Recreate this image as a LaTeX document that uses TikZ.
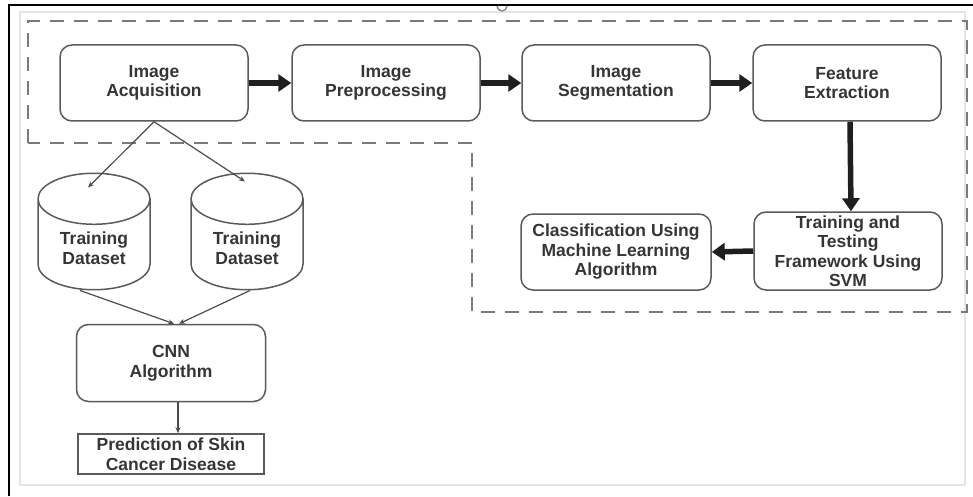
\documentclass[tikz,border=0pt]{standalone}
\usepackage{fontspec}
\setmainfont{Liberation Sans}
\usetikzlibrary{shapes.geometric,arrows.meta}

\definecolor{boxline}{HTML}{5A5A5A}
\definecolor{txtgray}{HTML}{353535}
\definecolor{dashgray}{HTML}{7A7A7A}

\tikzset{
    procbox/.style={draw=boxline,
        line width=1.5pt,
        rounded corners=12pt,
        minimum width=188pt,
        minimum height=76pt,
        inner sep=0pt,
        align=center,
        text=txtgray,
        font=\fontsize{17.5}{19.5}\selectfont\bfseries
    },
    dbase/.style={cylinder,
        shape border rotate=90,
        aspect=0.75,
        draw=boxline,
        line width=1.5pt,
        minimum width=112pt,
        minimum height=109pt,
        inner sep=0pt,
        anchor=shape center,
        align=center,
        text=txtgray,
        font=\fontsize{17.5}{19.5}\selectfont\bfseries
    },
    bigarrow/.style={-{Triangle[length=13pt,width=17pt]},
        line width=5.5pt,
        draw=black!88
    },
    thinarrow/.style={-{Stealth[length=6pt,width=5pt]},
        line width=1.2pt,
        draw=black!70
    }
}

\begin{document}
\begin{tikzpicture}[x=1pt,y=1pt]
    \useasboundingbox (0,0) rectangle (973,496);

    % frame
    \draw[black!10, line width=1.5pt] (20,11) rectangle (965,484);
    \draw[line width=2pt] (9,0) -- (9,491) -- (973,491);
    \draw[black!45, line width=1.5pt] (497,490) arc (180:360:5);

    % dashed region
    \draw[dashgray, line width=2pt, dash pattern=on 14pt off 10pt]
        (28,353) -- (28,475) -- (967,475) -- (967,184)
        -- (472,184) -- (472,353) -- cycle;

    % pipeline
    \node[procbox] (acq) at (154,413) {Image\\Acquisition};
    \node[procbox] (pre) at (386,413) {Image\\Preprocessing};
    \node[procbox] (seg) at (616,413) {Image\\Segmentation};
    \node[procbox] (feat) at (847,413) {Feature\\Extraction};
    \node[procbox,
        minimum height=78pt
    ] (svm) at (848,245) {Training and\\Testing\\Framework Using\\SVM};
    \node[procbox,
        minimum width=190pt
    ] (cls) at (616,244) {Classification Using\\Machine Learning\\Algorithm};

    \draw[bigarrow] (acq.east) -- (pre.west);
    \draw[bigarrow] (pre.east) -- (seg.west);
    \draw[bigarrow] (seg.east) -- (feat.west);
    \draw[bigarrow] ([xshift=3pt]feat.south) -- ([xshift=3pt]svm.north);
    \draw[bigarrow] (svm.west) -- (cls.east);

    % CNN branch
    \node[dbase] (db1) at (94,264.5) {\\Training\\Dataset};
    \node[dbase] (db2) at (247,264.5) {\\Training\\Dataset};
    \node[procbox,
        minimum width=189pt,
        minimum height=77pt
    ] (cnn) at (171,133) {CNN\\Algorithm};
    \node[draw=boxline,
        line width=1.5pt,
        minimum width=186pt,
        minimum height=40pt,
        inner sep=0pt,
        align=center,
        text=txtgray,
        font=\fontsize{17.5}{19.5}\selectfont\bfseries
    ] (pred) at (171,42) {Prediction of Skin\\Cancer Disease};

    \draw[thinarrow] (acq.south) -- ([xshift=-6pt,yshift=-15pt]db1.north);
    \draw[thinarrow] (acq.south) -- ([xshift=-2pt,yshift=-9pt]db2.north);
    \draw[thinarrow] ([xshift=-14pt]db1.south) -- ([xshift=3pt]cnn.north);
    \draw[thinarrow] ([xshift=3pt]db2.south) -- ([xshift=8pt]cnn.north);
    \draw[thinarrow] ([xshift=7pt]cnn.south) -- ([xshift=7pt]pred.north);

\end{tikzpicture}
\end{document}
